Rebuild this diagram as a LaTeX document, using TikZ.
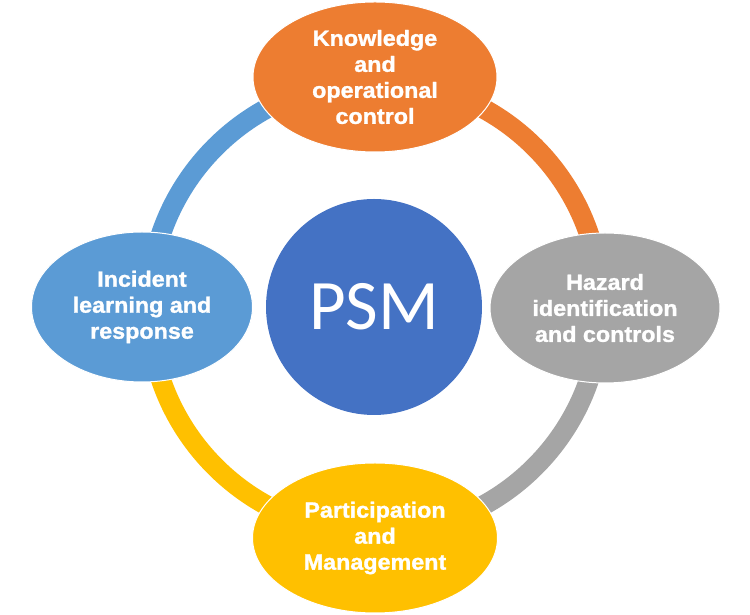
\documentclass[tikz,border=0pt]{standalone}
\usepackage{fontspec}
\setmainfont{Liberation Sans}
\newfontfamily\heavyfont[FakeBold=1.3,FakeStretch=1.06]{Liberation Sans Bold}
\newfontfamily\psmfont{Carlito}
\usetikzlibrary{shapes.geometric}
\definecolor{cOrange}{HTML}{ED7D31}
\definecolor{cBlue}{HTML}{5B9BD5}
\definecolor{cGray}{HTML}{A5A5A5}
\definecolor{cGold}{HTML}{FFC000}
\definecolor{cDark}{HTML}{4472C4}
\begin{document}
\begin{tikzpicture}[x=1pt,y=1pt,
  ringarc/.style={line width=20pt},
  bubble/.style={ellipse, draw=white, line width=1pt, inner sep=0pt, text=white,
    align=center, font=\fontsize{22}{26}\heavyfont},
  hub/.style={circle, fill=cDark, inner sep=0pt, minimum size=216pt, text=white,
    font=\fontsize{71}{80}\psmfont}
]
\useasboundingbox (0,0) rectangle (750,615);
\coordinate (c) at (375,308);
\draw[ringarc, cOrange] (c) ++(0:226) arc[start angle=0, end angle=90, radius=226];
\draw[ringarc, cBlue] (c) ++(90:226) arc[start angle=90, end angle=180, radius=226];
\draw[ringarc, cGold] (c) ++(180:226) arc[start angle=180, end angle=270, radius=226];
\draw[ringarc, cGray] (c) ++(270:226) arc[start angle=270, end angle=360, radius=226];
\node[hub] (psm) at (374,308) {PSM};
\node[bubble, fill=cOrange, minimum width=244pt, minimum height=150pt] (top) at (375,538)
  {Knowledge\\and\\operational\\control};
\node[bubble, fill=cBlue, minimum width=221pt, minimum height=150pt] (left) at (142,308)
  {Incident\\learning and\\response};
\node[bubble, fill=cGray, minimum width=230pt, minimum height=150pt] (right) at (605,307)
  {Hazard\\identification\\and controls};
\node[bubble, fill=cGold, minimum width=245pt, minimum height=150pt] (bottom) at (375,77)
  {Participation\\and\\Management};
\end{tikzpicture}
\end{document}
